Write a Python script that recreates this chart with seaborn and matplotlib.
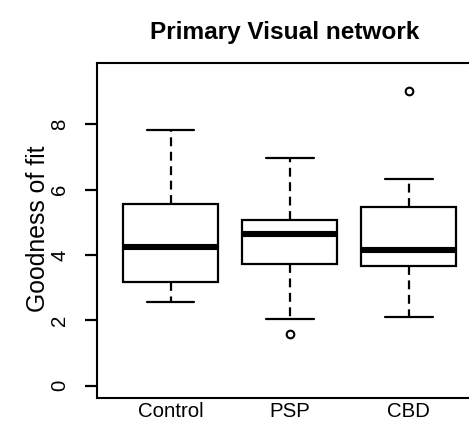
import numpy as np
import pandas as pd
import matplotlib
matplotlib.use("Agg")
import matplotlib.pyplot as plt
import seaborn as sns

# ---- data (box summaries) ----
groups = ["Control", "PSP", "CBD"]
whisker_low = [2.56, 2.05, 2.09]
q1 = [3.17, 3.73, 3.66]
median = [4.23, 4.63, 4.16]
q3 = [5.56, 5.07, 5.48]
whisker_high = [7.84, 6.97, 6.32]
outliers = [[], [1.57], [9.03]]
yticks = [0, 2, 4, 6, 8]

# build per-group samples (9 values) whose quartiles equal the read summaries
rows = []
for g, lo, a, m, b, hi, outs in zip(groups, whisker_low, q1, median, q3, whisker_high, outliers):
    low_part = [o for o in outs if o < lo]
    high_part = [o for o in outs if o > hi]
    vals = low_part + [lo] * (2 - len(low_part)) + [a, a, m, b, b] + [hi] * (2 - len(high_part)) + high_part
    for v in vals:
        rows.append({"group": g, "value": v})
df = pd.DataFrame(rows)

sns.set_style("white")
plt.rcParams["font.family"] = ["Liberation Sans", "DejaVu Sans"]
for k in ["text.color", "axes.labelcolor", "xtick.color", "ytick.color", "axes.edgecolor"]:
    plt.rcParams[k] = "black"

fig = plt.figure(figsize=(4.69, 4.22), dpi=100)
ax = fig.add_axes([96.7 / 469, 24 / 422, 386 / 469, 335 / 422])

lw = 1.6
sns.boxplot(
    data=df, x="group", y="value", order=groups, ax=ax,
    width=0.8, whis=1.5, capwidths=0.4,
    boxprops=dict(facecolor="white", edgecolor="black", linewidth=lw),
    medianprops=dict(color="black", linewidth=4.4, solid_capstyle="butt"),
    whiskerprops=dict(color="black", linewidth=lw, linestyle=(0, (4, 2.5))),
    capprops=dict(color="black", linewidth=lw),
    flierprops=dict(marker="o", markersize=5.5, markerfacecolor="none",
                    markeredgecolor="black", markeredgewidth=1.5),
)

ax.set_xlim(-0.62, 2.62)
ax.set_ylim(-0.38, 9.88)
ax.set_yticks(yticks)
ax.set_yticklabels([str(t) for t in yticks], rotation=90, va="center", fontsize=14.7)
ax.set_xticks(range(len(groups)))
ax.set_xticklabels(groups, fontsize=14.7)
ax.tick_params(axis="y", length=8.6, width=lw, color="black", pad=11, direction="out", left=True)
ax.tick_params(axis="x", length=0, pad=3)
ax.set_xlabel("")
ax.set_ylabel("")
for s in ax.spines.values():
    s.set_color("black")
    s.set_linewidth(1.5)

fig.text(38.1 / 469, 1 - 228.5 / 422, "Goodness of fit", rotation=90,
         ha="center", va="center", fontsize=17.8)
fig.text(285 / 469, 1 - 39.3 / 422, "Primary Visual network", ha="center",
         va="baseline", fontsize=17.6, fontweight="bold")

fig.savefig("out.png", dpi=100)
